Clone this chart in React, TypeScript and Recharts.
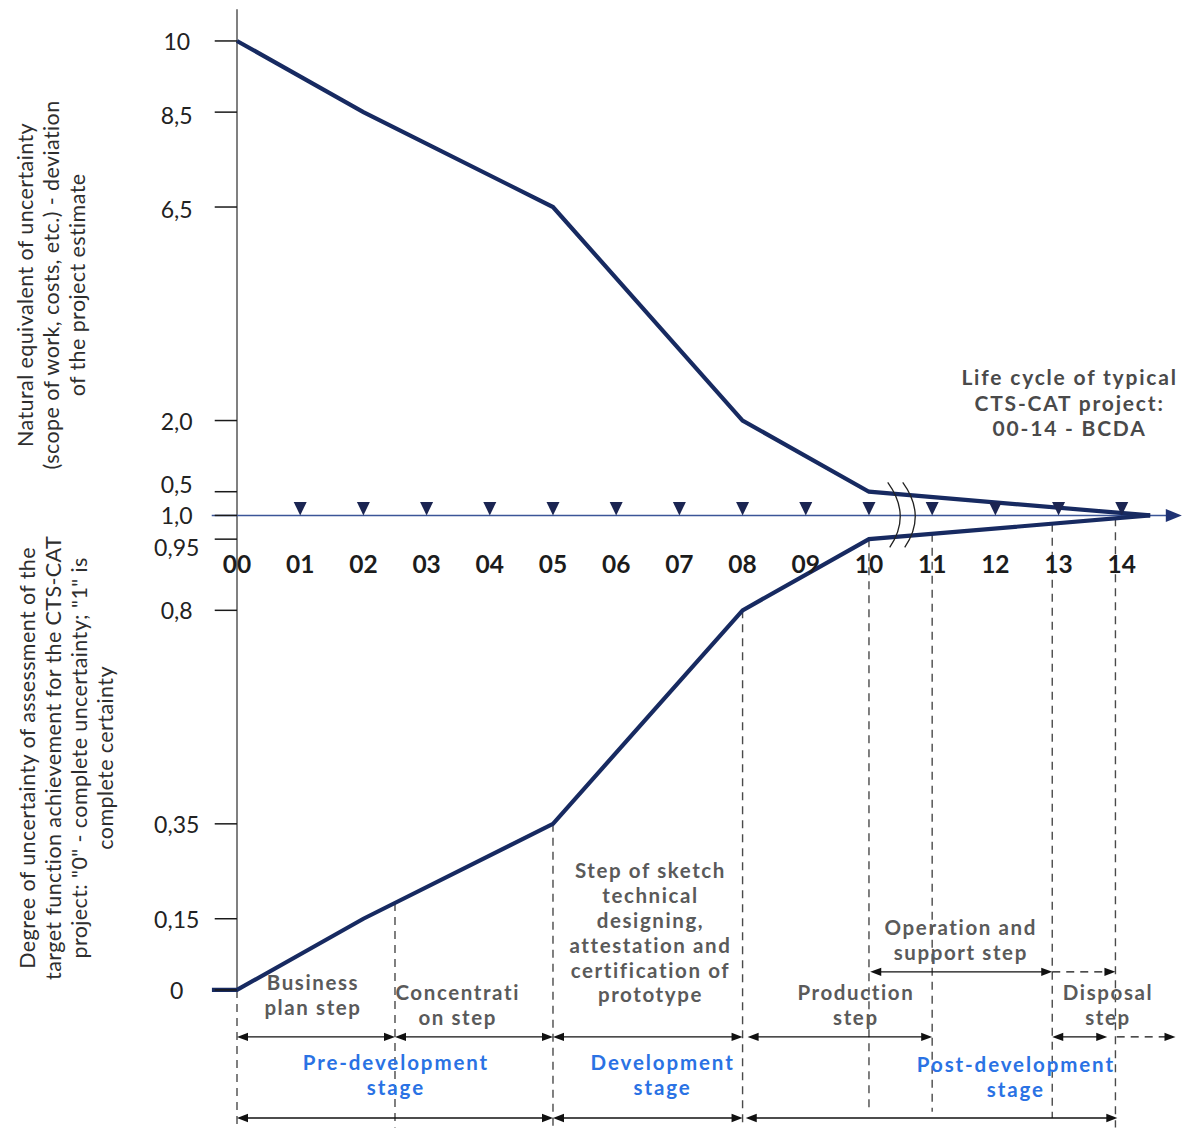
import React from 'react';
import { ComposedChart, Line, XAxis, YAxis, ReferenceLine, ReferenceDot, Scatter } from 'recharts';

// ---------- data ----------
const stepLabels = ['00', '01', '02', '03', '04', '05', '06', '07', '08', '09', '10', '11', '12', '13', '14'];

// upper curve: natural equivalent of uncertainty
const uncertaintyX = [0, 2, 5, 8, 10, 14.45];
const uncertaintyValues = [10, 8.5, 6.5, 2.0, 0.5, 0];

// lower curve: degree of certainty of assessment (0..1)
const degreeX = [-0.4, 0, 2, 5, 8, 10, 14.45];
const degreeValues = [0, 0, 0.15, 0.35, 0.8, 0.95, 1.0];

const upperTickValues = [10, 8.5, 6.5, 2.0, 0.5];
const upperTickLabels = ['10', '8,5', '6,5', '2,0', '0,5'];
const lowerTickValues = [1.0, 0.95, 0.8, 0.35, 0.15, 0];
const lowerTickLabels = ['1,0', '0,95', '0,8', '0,35', '0,15', '0'];

// phase boundaries (step index positions)
const boundaryX = [0, 2.5, 5, 8, 10, 11, 12.9, 13.9];

// ---------- layout helpers ----------
const SPAN = 10; // lower scale is mirrored below the axis: 1 -> 0, 0 -> -10
const toLower = (d: number) => (d - 1) * SPAN;

const FONT = 'Lato, "Open Sans", "DejaVu Sans", sans-serif';
const NAVY = '#172a61';
const GRAY_TEXT = '#5a5a5a';
const BLUE_TEXT = '#2a72e4';

const upperData = uncertaintyX.map((x, i) => ({ x, y: uncertaintyValues[i] }));
const lowerData = degreeX.map((x, i) => ({ x, y: toLower(degreeValues[i]) }));
const axisPoints = stepLabels.map((label, i) => ({ x: i, y: 0, label }));

const tickInfo = [
  ...upperTickValues.map((v, i) => ({ value: v, label: upperTickLabels[i] })),
  ...lowerTickValues.map((v, i) => ({ value: toLower(v), label: lowerTickLabels[i] })),
];
const tickLabelShift: Record<string, number> = { '0,5': -8, '0,95': 8, '8,5': 3, '6,5': 2 };

const lowerAt = (x: number) => {
  for (let i = 0; i < degreeX.length - 1; i++) {
    if (x >= degreeX[i] && x <= degreeX[i + 1]) {
      const t = (x - degreeX[i]) / (degreeX[i + 1] - degreeX[i]);
      return toLower(degreeValues[i] + t * (degreeValues[i + 1] - degreeValues[i]));
    }
  }
  return 0;
};

const Y_BOTTOM = -12.9;
const Y_TOP = 10.8;
const boundaryEnds = [Y_BOTTOM, Y_BOTTOM, Y_BOTTOM, Y_BOTTOM, -12.57, -12.57, -12.7, Y_BOTTOM];

const ROW_STEP = -10.99;
const ROW_OPERATION = -9.62;
const ROW_STAGE = -12.7;

const arrows = [
  { from: 0, to: 2.5, y: ROW_STEP, both: true, dashed: false },
  { from: 2.5, to: 5, y: ROW_STEP, both: true, dashed: false },
  { from: 5, to: 8, y: ROW_STEP, both: true, dashed: false },
  { from: 8.08, to: 11, y: ROW_STEP, both: true, dashed: false },
  { from: 12.9, to: 13.77, y: ROW_STEP, both: true, dashed: false },
  { from: 13.92, to: 14.85, y: ROW_STEP, both: false, dashed: true },
  { from: 10.02, to: 12.9, y: ROW_OPERATION, both: true, dashed: false },
  { from: 12.9, to: 13.9, y: ROW_OPERATION, both: false, dashed: true },
  { from: 0, to: 5, y: ROW_STAGE, both: true, dashed: false },
  { from: 5, to: 8, y: ROW_STAGE, both: true, dashed: false },
  { from: 8.05, to: 13.93, y: ROW_STAGE, both: true, dashed: false },
];

const notes = [
  { x: 1.19, y: -9.84, lines: ['Business', 'plan step'], kind: 'step' },
  { x: 3.48, y: -10.05, lines: ['Concentrati', 'on step'], kind: 'step' },
  { x: 6.53, y: -7.48, lines: ['Step of sketch', 'technical', 'designing,', 'attestation and', 'certification of', 'prototype'], kind: 'step' },
  { x: 9.78, y: -10.05, lines: ['Production', 'step'], kind: 'step' },
  { x: 11.44, y: -8.68, lines: ['Operation and', 'support step'], kind: 'step' },
  { x: 13.77, y: -10.05, lines: ['Disposal', 'step'], kind: 'step' },
  { x: 2.5, y: -11.53, lines: ['Pre-development', 'stage'], kind: 'stage' },
  { x: 6.72, y: -11.53, lines: ['Development', 'stage'], kind: 'stage' },
  { x: 12.31, y: -11.57, lines: ['Post-development', 'stage'], kind: 'stage' },
  { x: 13.16, y: 2.92, lines: ['Life cycle of typical', 'CTS-CAT project:', '00-14 - BCDA'], kind: 'title' },
];

const axisTitles = [
  { x: -2.943, y: 4.858, lines: ['Natural equivalent of uncertainty', '(scope of work, costs, etc.) - deviation', 'of the project estimate'] },
  { x: -2.706, y: -5.11, lines: ['Degree of uncertainty of assessment of the', 'target function achievement for the CTS-CAT', 'project: "0" - complete uncertainty; "1" is', 'complete certainty'] },
];

// ---------- shapes ----------
const arrowHead = (x: number, y: number, dir: number, len: number, half: number, fill: string) => (
  <polygon points={`${x},${y} ${x - dir * len},${y - half} ${x - dir * len},${y + half}`} fill={fill} />
);

const makeArrowShape = (both: boolean, dashed: boolean) => (p: any) => {
  const { x1, y1, x2, y2 } = p;
  const len = 11;
  return (
    <g>
      <line
        x1={both ? x1 + len * 0.6 : x1}
        y1={y1}
        x2={x2 - len * 0.6}
        y2={y2}
        stroke="#111"
        strokeWidth={1.4}
        strokeDasharray={dashed ? '8 6' : undefined}
      />
      {arrowHead(x2, y2, 1, len, 4.2, '#111')}
      {both ? arrowHead(x1, y1, -1, len, 4.2, '#111') : null}
    </g>
  );
};

const xAxisShape = (p: any) => {
  const { x1, y1, x2, y2 } = p;
  return (
    <g>
      <line x1={x1} y1={y1} x2={x2 - 12} y2={y2} stroke="#3b5597" strokeWidth={1.6} />
      {arrowHead(x2, y2, 1, 16, 6.5, '#1f3273')}
    </g>
  );
};

const AxisPointShape = (p: any) => {
  const { cx, cy, payload } = p;
  if (cx == null || cy == null) return <g />;
  return (
    <g>
      {payload.x > 0 ? (
        <polygon points={`${cx - 6.5},${cy - 13.5} ${cx + 6.5},${cy - 13.5} ${cx},${cy}`} fill="#1b2552" />
      ) : null}
      <text
        x={cx}
        y={cy + 48}
        textAnchor="middle"
        dominantBaseline="central"
        fontFamily={FONT}
        fontWeight={700}
        fontSize={24.5}
        fill="#1c1c1c"
      >
        {payload.label}
      </text>
    </g>
  );
};

const breakShape = (p: any) => {
  const { cx, cy } = p;
  const bx = cx - 16;
  return (
    <g fill="none" stroke="#222" strokeWidth={1.3}>
      {[0, 15].map((o) => (
        <path key={o} d={`M${bx + o},${cy - 33} Q${bx + o + 24},${cy} ${bx + o + 2},${cy + 32}`} />
      ))}
    </g>
  );
};

const noteStyle: Record<string, { fill: string; size: number; gap: number; spacing: number }> = {
  step: { fill: GRAY_TEXT, size: 20.5, gap: 24.8, spacing: 1.6 },
  stage: { fill: BLUE_TEXT, size: 20.5, gap: 24.8, spacing: 1.9 },
  title: { fill: '#4a4a4a', size: 21, gap: 25.5, spacing: 1.8 },
};

const makeNoteShape = (lines: string[], kind: string) => (p: any) => {
  const { cx, cy } = p;
  const s = noteStyle[kind];
  return (
    <g>
      {lines.map((t, i) => (
        <text
          key={i}
          x={cx + s.spacing / 2}
          y={cy + i * s.gap}
          textAnchor="middle"
          dominantBaseline="central"
          fontFamily={FONT}
          fontWeight={700}
          fontSize={s.size}
          letterSpacing={s.spacing}
          fill={s.fill}
        >
          {t}
        </text>
      ))}
    </g>
  );
};

const makeTitleShape = (lines: string[]) => (p: any) => {
  const { cx, cy } = p;
  const gap = 26;
  const n = lines.length;
  return (
    <g transform={`rotate(-90 ${cx} ${cy})`}>
      {lines.map((t, i) => (
        <text
          key={i}
          x={cx}
          y={cy + (i - (n - 1) / 2) * gap}
          textAnchor="middle"
          dominantBaseline="central"
          fontFamily={FONT}
          fontSize={21.5}
          letterSpacing={0.4}
          fill="#2e2e2e"
        >
          {t}
        </text>
      ))}
    </g>
  );
};

const YTick = (props: any) => {
  const { x, y, payload } = props;
  const info = tickInfo.find((t) => Math.abs(t.value - payload.value) < 1e-6);
  if (!info) return <g />;
  const dy = tickLabelShift[info.label] || 0;
  return (
    <g>
      <line x1={x + 3} x2={x + 25.3} y1={y} y2={y} stroke="#1a1a1a" strokeWidth={1.5} />
      <text
        x={x - 35}
        y={y + dy}
        textAnchor="middle"
        dominantBaseline="central"
        fontFamily={FONT}
        fontSize={23}
        fill="#222"
      >
        {info.label}
      </text>
    </g>
  );
};

export default function App() {
  return (
    <div style={{ position: 'absolute', left: 0, top: 0, width: 1182, height: 1129, background: '#fff' }}>
      <ComposedChart
        width={1182}
        height={1129}
        margin={{ top: 3, right: 0.2, bottom: 1.5, left: 151.72 }}
      >
        <XAxis dataKey="x" type="number" domain={[-0.4, 14.95]} allowDataOverflow hide />
        <YAxis
          type="number"
          domain={[Y_BOTTOM, Y_TOP]}
          allowDataOverflow
          ticks={tickInfo.map((t) => t.value)}
          interval={0}
          width={60}
          axisLine={false}
          tickLine={false}
          tickSize={0}
          tickMargin={0}
          tick={<YTick />}
        />

        {/* vertical axis line */}
        <ReferenceLine
          segment={[{ x: 0, y: toLower(0) }, { x: 0, y: 10.67 }]}
          stroke="#808080"
          strokeWidth={2}
          ifOverflow="visible"
        />

        {/* dashed phase boundaries */}
        {boundaryX.map((bx, i) => (
          <ReferenceLine
            key={`b${i}`}
            segment={[{ x: bx, y: lowerAt(bx) }, { x: bx, y: boundaryEnds[i] }]}
            stroke="#4a4a4a"
            strokeWidth={1.4}
            strokeDasharray="8 6"
            ifOverflow="visible"
          />
        ))}

        {/* arrows */}
        {arrows.map((a, i) => (
          <ReferenceLine
            key={`a${i}`}
            segment={[{ x: a.from, y: a.y }, { x: a.to, y: a.y }]}
            ifOverflow="visible"
            shape={makeArrowShape(a.both, a.dashed)}
          />
        ))}

        {/* x axis with arrow */}
        <ReferenceLine
          segment={[{ x: -0.4, y: 0 }, { x: 14.95, y: 0 }]}
          ifOverflow="visible"
          shape={xAxisShape}
        />

        <Line
          data={upperData}
          dataKey="y"
          type="linear"
          stroke={NAVY}
          strokeWidth={4.2}
          dot={false}
          isAnimationActive={false}
        />
        <Line
          data={lowerData}
          dataKey="y"
          type="linear"
          stroke={NAVY}
          strokeWidth={4.2}
          dot={false}
          isAnimationActive={false}
        />

        <Scatter data={axisPoints} dataKey="y" shape={AxisPointShape} isAnimationActive={false} />

        <ReferenceDot x={10.55} y={0} r={1} ifOverflow="visible" shape={breakShape} />

        {notes.map((n, i) => (
          <ReferenceDot key={`n${i}`} x={n.x} y={n.y} r={1} ifOverflow="visible" shape={makeNoteShape(n.lines, n.kind)} />
        ))}

        {axisTitles.map((t, i) => (
          <ReferenceDot key={`t${i}`} x={t.x} y={t.y} r={1} ifOverflow="visible" shape={makeTitleShape(t.lines)} />
        ))}
      </ComposedChart>
    </div>
  );
}
